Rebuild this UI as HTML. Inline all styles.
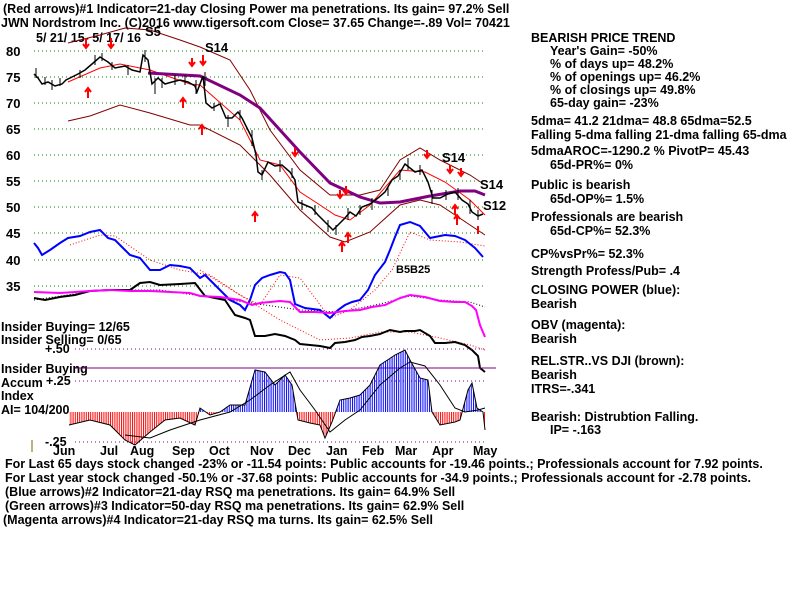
<!DOCTYPE html>
<html><head><style>
body{margin:0;background:#fff;}
svg{display:block;font-family:"Liberation Sans",sans-serif;font-weight:bold;}
</style></head><body>
<svg width="800" height="600" viewBox="0 0 800 600" xmlns="http://www.w3.org/2000/svg">
<rect width="800" height="600" fill="#fff"/>
<g font-size="12.5" fill="#000">
<text x="3" y="13">(Red arrows)#1 Indicator=21-day Closing Power ma penetrations. Its gain= 97.2% Sell</text>
<text x="1" y="27">JWN   Nordstrom Inc.  (C)2016 www.tigersoft.com     Close=  37.65  Change=-.89 Vol= 70421</text>
<text x="36" y="42">5/ 21/ 15-  5/ 17/ 16</text>
</g>
<g font-size="13" fill="#000">
<text x="6" y="56">80</text><text x="6" y="82">75</text><text x="6" y="108">70</text><text x="6" y="134">65</text><text x="6" y="160">60</text><text x="6" y="186">55</text><text x="6" y="212">50</text><text x="6" y="238">45</text><text x="6" y="265">40</text><text x="6" y="291">35</text>
</g>
<g stroke="#008000" stroke-dasharray="1,3" stroke-width="1">
<line x1="34" y1="51" x2="485" y2="51"/><line x1="34" y1="77" x2="485" y2="77"/><line x1="34" y1="103" x2="485" y2="103"/><line x1="34" y1="129" x2="485" y2="129"/><line x1="34" y1="155" x2="485" y2="155"/><line x1="34" y1="181" x2="485" y2="181"/><line x1="34" y1="207" x2="485" y2="207"/><line x1="34" y1="233" x2="485" y2="233"/><line x1="34" y1="260" x2="485" y2="260"/><line x1="34" y1="286" x2="485" y2="286"/>
</g>
<!-- bands -->
<polyline fill="none" stroke="#800000" stroke-width="1" points="68,43 100,35 125,28 150,30 180,40 200,47 230,60 250,90 270,130 300,170 330,195 360,195 380,190 400,160 420,148 440,160 470,175 485,185"/>
<polyline fill="none" stroke="#800000" stroke-width="1" points="68,121 90,116 120,105 150,113 190,125 200,125 240,145 270,175 300,210 330,237 345,242 370,232 400,205 420,200 440,205 470,225 485,235"/>
<polyline fill="none" stroke="#ff0000" stroke-width="1" points="68,82 100,68 120,64 150,70 190,84 200,85 240,120 260,160 280,165 300,192 320,205 335,215 350,220 370,205 400,170 425,172 445,182 470,200 485,215"/>
<polyline fill="none" stroke="#800080" stroke-width="3" points="148,73 200,76 240,95 260,108 300,152 330,183 360,197 380,203 400,202 430,196 460,191 475,191 485,195"/>
<!-- price -->
<polyline fill="none" stroke="#000" stroke-width="1.5" points="34,74 38,78 42,84 48,82 55,86 62,84 66,80 72,77 78,74 85,70 92,64 100,57 108,62 115,68 125,66 132,70 140,72 143,55 148,60 152,84 158,78 165,84 172,82 180,80 188,82 195,86 197,92 203,76 206,103 212,108 220,104 226,118 232,118 238,112 242,118 248,130 252,138 256,155 258,172 262,175 268,162 275,166 282,165 290,172 295,180 298,202 305,205 312,208 318,215 325,222 333,230 338,225 345,218 350,212 356,216 362,207 370,204 378,198 385,192 392,180 398,176 405,164 410,168 415,172 422,170 428,182 433,198 440,198 448,194 455,192 462,200 468,204 472,212 478,216 483,214"/>
<g stroke="#000" stroke-width="1">
<path d="M36,68v10M45,77v8M52,80v10M60,78v8M80,70v8M95,55v10M102,53v8M112,62v8M128,65v10M145,50v12M155,78v16M162,78v10M175,75v10M185,75v10M196,80v14M205,72v14M214,103v8M228,115v12M240,110v10M252,130v16M262,170v10M280,160v12M292,168v10M302,200v10M315,205v10M328,220v12M336,225v10M348,208v12M360,205v10M372,198v12M388,186v10M400,170v10M408,158v12M420,165v10M432,190v14M446,190v10M458,188v12M470,200v14M478,210v10"/>
</g>
<!-- red arrows -->
<g fill="#f00" stroke="#f00">
<path d="M86,38v8M83,44l3,4l3,-4" stroke-width="2" fill="none"/>
<path d="M111,38v8M108,44l3,4l3,-4" stroke-width="2" fill="none"/>
<path d="M192,58v6M189,62l3,4l3,-4M203,55v8M200,61l3,4l3,-4M295,148v6M292,152l3,4l3,-4M340,190v6M337,194l3,4l3,-4M346,186v6M343,190l3,4l3,-4M427,150v6M424,154l3,4l3,-4M450,165v6M447,169l3,4l3,-4M461,168v6M458,172l3,4l3,-4M478,226v8" stroke-width="2" fill="none"/>
<path d="M88,98v-8M85,92l3,-4l3,4M183,108v-8M180,102l3,-4l3,4M202,135v-8M199,129l3,-4l3,4M255,222v-8M252,216l3,-4l3,4M342,252v-8M339,246l3,-4l3,4M348,243v-8M345,237l3,-4l3,4M455,215v-8M452,209l3,-4l3,4M457,225v-8M454,219l3,-4l3,4" stroke-width="2" fill="none"/>
</g>
<g font-size="13" fill="#000">
<text x="205" y="52">S14</text><text x="442" y="162">S14</text><text x="480" y="189">S14</text><text x="483" y="210">S12</text><text x="145" y="36">S5</text><text x="396" y="273" font-size="11">B5B25</text>
</g>
<!-- CP blue / dotted red -->
<polyline fill="none" stroke="#f00" stroke-width="1" stroke-dasharray="1,2" points="70,245 100,235 115,236 150,260 180,270 210,275 240,295 260,305 280,275 300,278 330,318 350,310 375,290 392,270 410,232 430,240 460,242 485,246"/>
<polyline fill="none" stroke="#0000ff" stroke-width="2" points="34,243 38,248 42,255 50,250 60,243 68,238 80,236 90,232 100,230 108,238 115,240 125,250 130,255 140,258 150,270 160,270 170,265 180,266 190,268 200,278 205,275 210,280 220,290 230,300 240,305 245,310 250,300 255,285 262,278 270,275 280,272 285,273 290,280 295,304 305,308 320,310 330,318 338,310 345,305 352,302 360,300 368,290 375,275 385,262 390,250 395,237 400,225 410,222 420,226 430,238 440,236 445,235 455,236 465,240 475,248 483,257"/>
<!-- black RS and magenta OBV -->
<polyline fill="none" stroke="#000" stroke-width="1" stroke-dasharray="1,2" points="34,300 100,290 160,290 230,300 300,310 340,312 380,304 410,296 440,300 470,302 485,307"/>
<polyline fill="none" stroke="#f00" stroke-width="1" stroke-dasharray="1,2" points="200,270 240,295 280,320 320,340 350,338 380,332 410,332 440,338 470,345 485,350"/>
<polyline fill="none" stroke="#000" stroke-width="2" points="34,298 45,300 60,297 75,295 90,291 110,290 130,290 140,283 150,282 160,285 180,284 195,283 205,296 215,298 225,300 235,315 245,318 250,320 255,336 265,336 275,334 285,336 295,340 300,344 310,345 320,346 330,348 335,343 345,342 355,340 362,337 370,336 380,334 390,330 400,332 405,331 415,331 420,330 430,336 435,343 445,343 455,342 465,345 472,350 478,356 480,368 485,372"/>
<polyline fill="none" stroke="#ff00ff" stroke-width="2" points="34,292 60,293 90,291 110,290 130,291 150,291 170,292 190,293 200,296 220,297 240,300 252,305 260,303 270,302 280,301 290,302 300,312 315,312 330,313 345,311 360,310 372,307 385,305 400,298 410,295 425,297 440,301 455,302 465,302 472,306 476,310 480,325 485,337"/>
<!-- accum panel -->
<g font-size="12.5" fill="#000">
<text x="1" y="331">Insider Buying= 12/65</text>
<text x="1" y="344">Insider Selling= 0/65</text>
<text x="45" y="353">+.50</text>
<text x="1" y="373">Insider Buying</text>
<text x="1" y="387">Accum</text><text x="46" y="385">+.25</text>
<text x="1" y="400">Index</text>
<text x="1" y="414">AI= 104/200</text>
<text x="45" y="446">-.25</text>
</g>
<g stroke="#800080" stroke-dasharray="1,3"><line x1="75" y1="349" x2="485" y2="349"/><line x1="75" y1="381" x2="485" y2="381"/><line x1="75" y1="442" x2="485" y2="442"/></g>
<line x1="75" y1="368" x2="496" y2="368" stroke="#800080" stroke-width="1"/>
<line x1="32" y1="440" x2="32" y2="452" stroke="#806000" stroke-width="1"/>
<defs>
<clipPath id="pos"><rect x="60" y="300" width="430" height="112"/></clipPath>
<clipPath id="neg"><rect x="60" y="412" width="430" height="50"/></clipPath>
<pattern id="bl" width="2.2" height="4" patternUnits="userSpaceOnUse"><rect width="1" height="4" fill="#0000ff"/></pattern>
<pattern id="rd" width="2.2" height="4" patternUnits="userSpaceOnUse"><rect width="1" height="4" fill="#ff0000"/></pattern>
</defs>
<polygon clip-path="url(#pos)" fill="url(#bl)" points="69,412 69,425 90,420 110,425 125,440 135,445 150,432 165,420 180,418 195,425 200,408 210,415 220,412 230,405 245,405 255,370 265,372 275,385 285,375 292,385 298,420 310,423 320,425 325,438 332,422 340,400 350,398 360,395 370,385 380,365 395,355 405,350 410,360 420,378 428,380 432,412 440,425 455,422 460,420 468,390 472,383 477,408 483,412 485,430 485,412"/>
<polygon clip-path="url(#neg)" fill="url(#rd)" points="69,412 69,425 90,420 110,425 125,440 135,445 150,432 165,420 180,418 195,425 200,408 210,415 220,412 230,405 245,405 255,370 265,372 275,385 285,375 292,385 298,420 310,423 320,425 325,438 332,422 340,400 350,398 360,395 370,385 380,365 395,355 405,350 410,360 420,378 428,380 432,412 440,425 455,422 460,420 468,390 472,383 477,408 483,412 485,430 485,412"/>
<polyline fill="none" stroke="#000" stroke-width="1" points="69,425 90,420 110,425 125,440 135,445 150,432 165,420 180,418 195,425 200,408 210,415 220,412 230,405 245,405 255,370 265,372 275,385 285,375 292,385 298,420 310,423 320,425 325,438 332,422 340,400 350,398 360,395 370,385 380,365 395,355 405,350 410,360 420,378 428,380 432,412 440,425 455,422 460,420 468,390 472,383 477,408 483,412 485,430"/>
<polyline fill="none" stroke="#000" stroke-width="1" points="125,435 150,438 170,430 200,420 230,412 250,400 270,385 290,372 300,390 315,410 330,432 345,420 360,410 380,385 400,368 410,362 425,366 440,385 455,408 465,412 478,410 485,408"/>
<g font-size="12.5" fill="#000">
<text x="53" y="455">Jun</text><text x="100" y="455">Jul</text><text x="130" y="455">Aug</text><text x="172" y="455">Sep</text><text x="209" y="455">Oct</text><text x="250" y="455">Nov</text><text x="288" y="455">Dec</text><text x="326" y="455">Jan</text><text x="362" y="455">Feb</text><text x="395" y="455">Mar</text><text x="432" y="455">Apr</text><text x="473" y="455">May</text>
</g>
<g font-size="12.5" fill="#000">
<text x="5" y="468">For Last 65 days stock changed -23% or -11.54 points:  Public accounts for -19.46 points.;  Professionals account for  7.92 points.</text>
<text x="5" y="482">For Last year stock changed -50.1% or -37.68 points:  Public accounts for -34.9 points.;  Professionals account for -2.78 points.</text>
<text x="5" y="496">(Blue arrows)#2 Indicator=21-day RSQ ma penetrations. Its gain= 64.9% Sell</text>
<text x="5" y="510">(Green arrows)#3 Indicator=50-day RSQ ma penetrations. Its gain= 62.9% Sell</text>
<text x="3" y="524">(Magenta arrows)#4 Indicator=21-day RSQ ma turns. Its gain= 62.5% Sell</text>
</g>
<g font-size="12.5" fill="#000">
<text x="531" y="42">BEARISH PRICE TREND</text>
<text x="550" y="55">Year's Gain= -50%</text>
<text x="550" y="68">% of days up= 48.2%</text>
<text x="550" y="81">% of openings up= 46.2%</text>
<text x="550" y="94">% of closings up= 49.8%</text>
<text x="550" y="107">65-day gain= -23%</text>
<text x="531" y="125">5dma= 41.2 21dma= 48.8 65dma=52.5</text>
<text x="531" y="139">Falling 5-dma  falling 21-dma  falling 65-dma</text>
<text x="531" y="155">5dmaAROC=-1290.2 %  PivotP= 45.43</text>
<text x="550" y="169">65d-PR%= 0%</text>
<text x="531" y="189">Public is bearish</text>
<text x="550" y="203">65d-OP%= 1.5%</text>
<text x="531" y="221">Professionals are bearish</text>
<text x="550" y="235">65d-CP%= 52.3%</text>
<text x="531" y="258">CP%vsPr%=  52.3%</text>
<text x="531" y="275">Strength Profess/Pub= .4</text>
<text x="531" y="294">CLOSING POWER (blue):</text>
<text x="531" y="308">Bearish</text>
<text x="531" y="329">OBV (magenta):</text>
<text x="531" y="343">Bearish</text>
<text x="531" y="365">REL.STR..VS DJI (brown):</text>
<text x="531" y="379">Bearish</text>
<text x="531" y="393">ITRS=-.341</text>
<text x="531" y="421">Bearish: Distrubtion Falling.</text>
<text x="550" y="434">IP= -.163</text>
</g>
</svg>
</body></html>
